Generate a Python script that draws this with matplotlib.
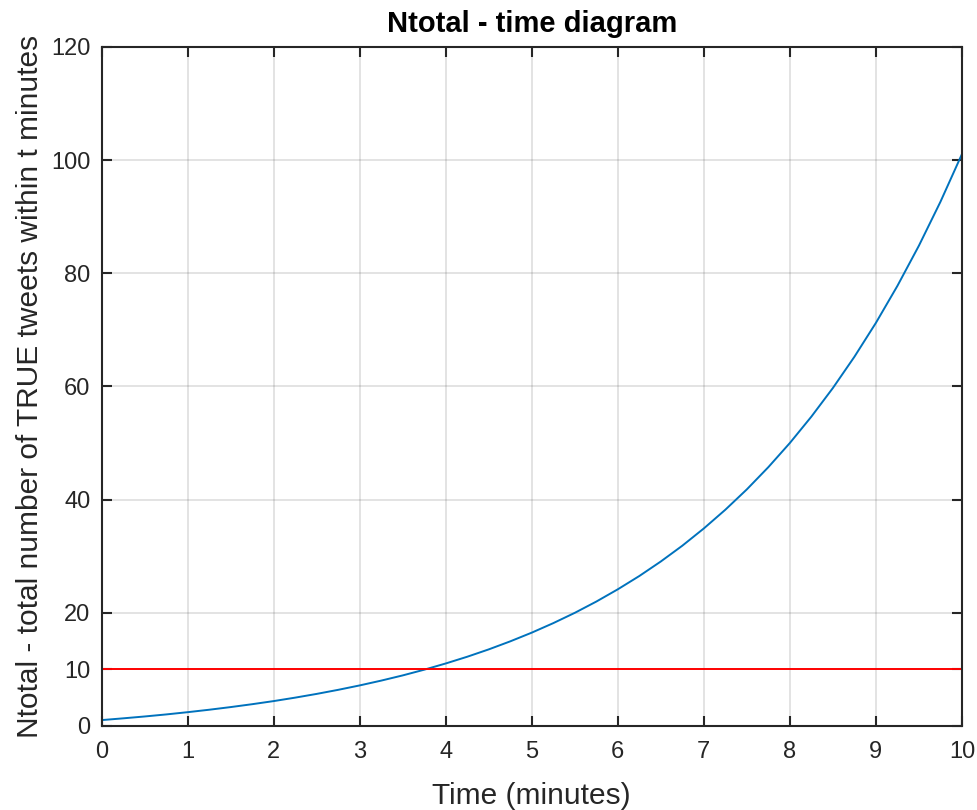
import matplotlib
matplotlib.use("Agg")
import matplotlib.pyplot as plt

plt.rcParams.update({"font.family": "Liberation Sans", "font.size": 18})

# time (minutes) and total number of tweets
t_min = [0, 0.25, 0.5, 0.75, 1, 1.25, 1.5, 1.75, 2, 2.25, 2.5, 2.75, 3, 3.25,
         3.5, 3.75, 4, 4.25, 4.5, 4.75, 5, 5.25, 5.5, 5.75, 6, 6.25, 6.5,
         6.75, 7, 7.25, 7.5, 7.75, 8, 8.25, 8.5, 8.75, 9, 9.25, 9.5, 9.75, 10]
n_total = [1.00, 1.31, 1.64, 2.00, 2.40, 2.83, 3.30, 3.81, 4.36, 4.97, 5.63,
           6.35, 7.13, 7.98, 8.90, 9.91, 11.01, 12.20, 13.50, 14.92, 16.46,
           18.14, 19.96, 21.95, 24.12, 26.47, 29.04, 31.83, 34.88, 38.19,
           41.79, 45.72, 49.99, 54.65, 59.71, 65.23, 71.23, 77.77, 84.88,
           92.63, 101.07]
threshold = 10
x_ticks = [0, 1, 2, 3, 4, 5, 6, 7, 8, 9, 10]
y_ticks = [0, 10, 20, 40, 60, 80, 100, 120]

fig = plt.figure(figsize=(9.77, 8.10), dpi=100)
ax = fig.add_axes([0.1039, 0.104, 0.8807, 0.838])

ax.plot(t_min, n_total, color="#0072BD", lw=1.4)
ax.axhline(threshold, color="#FF0000", lw=1.4)

ax.set_xlim(0, 10)
ax.set_ylim(0, 120)
ax.set_xticks(x_ticks)
ax.set_yticks(y_ticks)
ax.grid(True, color="#262626", alpha=0.15, lw=1.2)
ax.tick_params(direction="in", top=True, right=True, length=7, width=1.5,
               colors="#262626", labelsize=17, pad=8)
ax.tick_params(axis="x", pad=11)
for s in ax.spines.values():
    s.set_color("#262626")
    s.set_linewidth(1.5)

ax.set_xlabel("Time (minutes)", fontsize=21.5, color="#262626", labelpad=14)
ax.set_ylabel("Ntotal - total number of TRUE tweets within t minutes",
              fontsize=21.5, color="#262626", labelpad=5)
ax.set_title("Ntotal - time diagram", fontsize=21, fontweight="bold", pad=11)

fig.savefig("out.png", dpi=100)
